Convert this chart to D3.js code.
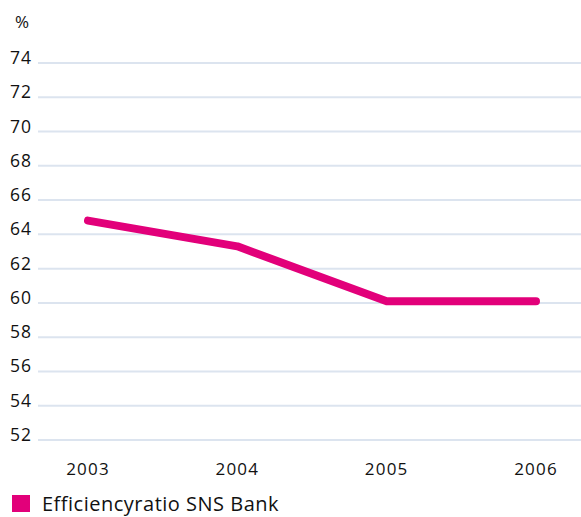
<!DOCTYPE html>
<html>
<head>
<meta charset="utf-8">
<script src="https://cdn.jsdelivr.net/npm/d3@7"></script>
<style>
body { margin: 0; background: #fff; }
text { font-family: "Open Sans", sans-serif; fill: #111; }
.grid line { stroke: #dce4ef; stroke-width: 2px; }
</style>
</head>
<body>
<svg width="581" height="517"></svg>
<script>
var years = ["2003", "2004", "2005", "2006"];
var efficiency = [64.8, 63.3, 60.1, 60.1];
var yTicks = [52, 54, 56, 58, 60, 62, 64, 66, 68, 70, 72, 74];
var seriesName = "Efficiencyratio SNS Bank";

var svg = d3.select("svg");
var pink = "#e2007a";

var x = d3.scalePoint()
    .domain(years)
    .range([88, 536]);

var y = d3.scaleLinear()
    .domain([52, 74])
    .range([440, 63]);

// gridlines
svg.append("g")
    .attr("class", "grid")
  .selectAll("line")
  .data(yTicks)
  .enter().append("line")
    .attr("x1", 38)
    .attr("x2", 581)
    .attr("y1", function(d) { return y(d); })
    .attr("y2", function(d) { return y(d); });

// y labels
svg.append("g")
  .selectAll("text")
  .data(yTicks)
  .enter().append("text")
    .attr("x", 32)
    .attr("y", function(d) { return y(d) + 1; })
    .attr("text-anchor", "end")
    .style("font-size", "17.5px")
    .style("letter-spacing", "1px")
    .text(function(d) { return d; });

svg.append("text")
    .attr("x", 22)
    .attr("y", 28)
    .attr("text-anchor", "middle")
    .style("font-size", "17px")
    .text("%");

// x labels
svg.append("g")
  .selectAll("text")
  .data(years)
  .enter().append("text")
    .attr("x", function(d) { return x(d); })
    .attr("y", 475)
    .attr("text-anchor", "middle")
    .style("font-size", "17px")
    .style("letter-spacing", "1.2px")
    .text(function(d) { return d; });

// line
var line = d3.line()
    .x(function(d, i) { return x(years[i]); })
    .y(function(d) { return y(d); });

svg.append("path")
    .datum(efficiency)
    .attr("d", line)
    .attr("fill", "none")
    .attr("stroke", pink)
    .attr("stroke-width", 8)
    .attr("stroke-linecap", "round")
    .attr("stroke-linejoin", "round");

// legend
svg.append("rect")
    .attr("x", 12)
    .attr("y", 495)
    .attr("width", 18)
    .attr("height", 17)
    .attr("fill", pink);

svg.append("text")
    .attr("x", 42)
    .attr("y", 511)
    .style("font-size", "20px")
    .style("letter-spacing", "0.5px")
    .text(seriesName);
</script>
</body>
</html>
